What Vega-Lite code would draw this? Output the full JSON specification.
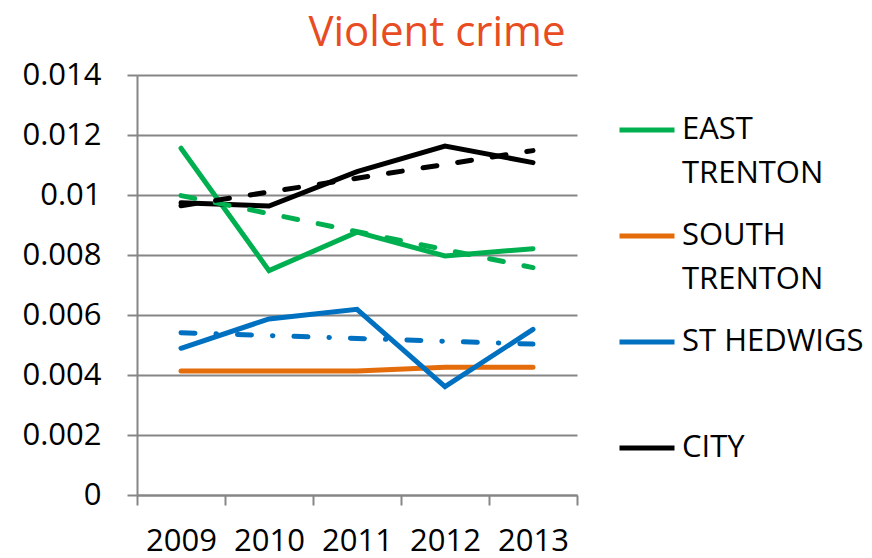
{
  "$schema": "https://vega.github.io/schema/vega-lite/v6.json",
  "autosize": "none",
  "width": 440,
  "height": 420,
  "padding": {"left": 137, "top": 75, "right": 295, "bottom": 63},
  "background": "white",
  "config": {
    "font": "Open Sans",
    "view": {"stroke": null}
  },
  "title": {
    "text": "Violent crime",
    "anchor": "middle",
    "dx": 80,
    "offset": 4,
    "fontSize": 42,
    "fontWeight": "normal",
    "color": "#E84C22",
    "font": "Open Sans"
  },
  "datasets": {
    "main": [
      {"series": "EAST TRENTON", "year": "2009", "value": 0.01156},
      {"series": "EAST TRENTON", "year": "2010", "value": 0.00748},
      {"series": "EAST TRENTON", "year": "2011", "value": 0.00876},
      {"series": "EAST TRENTON", "year": "2012", "value": 0.00797},
      {"series": "EAST TRENTON", "year": "2013", "value": 0.00821},
      {"series": "SOUTH TRENTON", "year": "2009", "value": 0.00413},
      {"series": "SOUTH TRENTON", "year": "2010", "value": 0.00413},
      {"series": "SOUTH TRENTON", "year": "2011", "value": 0.00413},
      {"series": "SOUTH TRENTON", "year": "2012", "value": 0.00426},
      {"series": "SOUTH TRENTON", "year": "2013", "value": 0.00426},
      {"series": "ST HEDWIGS", "year": "2009", "value": 0.00489},
      {"series": "ST HEDWIGS", "year": "2010", "value": 0.00587},
      {"series": "ST HEDWIGS", "year": "2011", "value": 0.00619},
      {"series": "ST HEDWIGS", "year": "2012", "value": 0.00361},
      {"series": "ST HEDWIGS", "year": "2013", "value": 0.00552},
      {"series": "CITY", "year": "2009", "value": 0.00974},
      {"series": "CITY", "year": "2010", "value": 0.00963},
      {"series": "CITY", "year": "2011", "value": 0.01078},
      {"series": "CITY", "year": "2012", "value": 0.01163},
      {"series": "CITY", "year": "2013", "value": 0.01108}
    ],
    "trend": [
      {"series": "EAST TRENTON", "year": "2009", "value": 0.00998},
      {"series": "EAST TRENTON", "year": "2013", "value": 0.00758},
      {"series": "CITY", "year": "2009", "value": 0.00964},
      {"series": "CITY", "year": "2013", "value": 0.01148},
      {"series": "ST HEDWIGS", "year": "2009", "value": 0.00541},
      {"series": "ST HEDWIGS", "year": "2013", "value": 0.00503}
    ]
  },
  "encoding": {
    "x": {
      "field": "year",
      "type": "ordinal",
      "bandPosition": 0.5,
      "scale": {"type": "band", "domain": ["2009", "2010", "2011", "2012", "2013"], "paddingInner": 0, "paddingOuter": 0},
      "axis": {
        "title": null,
        "labelAngle": 0,
        "tickBand": "extent",
        "grid": false,
        "domainColor": "#868686",
        "domainWidth": 2,
        "tickColor": "#868686",
        "tickWidth": 2,
        "tickSize": 10,
        "labelFontSize": 31,
        "labelColor": "#000000",
        "labelPadding": 21,
        "labelFont": "Open Sans"
      }
    },
    "y": {
      "field": "value",
      "type": "quantitative",
      "scale": {"domain": [0, 0.014], "nice": false, "zero": true},
      "axis": {
        "title": null,
        "values": [0, 0.002, 0.004, 0.006, 0.008, 0.01, 0.012, 0.014],
        "format": "~g",
        "grid": true,
        "gridColor": "#868686",
        "gridWidth": 2,
        "domainColor": "#868686",
        "domainWidth": 2,
        "tickColor": "#868686",
        "tickWidth": 2,
        "tickSize": 10,
        "labelFontSize": 31,
        "labelColor": "#000000",
        "labelPadding": 26,
        "labelFont": "Open Sans"
      }
    }
  },
  "layer": [
    {
      "data": {"name": "main"},
      "mark": {"type": "line", "strokeWidth": 5, "strokeCap": "round", "strokeJoin": "miter"},
      "encoding": {
        "color": {
          "field": "series",
          "type": "nominal",
          "scale": {
            "domain": ["EAST TRENTON", "SOUTH TRENTON", "ST HEDWIGS", "CITY"],
            "range": ["#00B050", "#E46C0A", "#0070C0", "#000000"]
          },
          "legend": {
            "title": null,
            "orient": "none",
            "legendX": 480,
            "legendY": 25,
            "symbolType": "stroke",
            "symbolSize": 3025,
            "symbolStrokeWidth": 5,
            "labelFontSize": 31,
            "labelFont": "Open Sans",
            "labelColor": "#000000",
            "labelOffset": 5,
            "labelLimit": 300,
            "gridAlign": "all",
            "rowPadding": 17,
            "labelExpr": "datum.label == 'EAST TRENTON' ? ['EAST', 'TRENTON'] : datum.label == 'SOUTH TRENTON' ? ['SOUTH', 'TRENTON'] : datum.label",
            "encoding": {
              "labels": {"lineHeight": {"value": 44}}
            }
          }
        }
      }
    },
    {
      "data": {"name": "trend"},
      "transform": [{"filter": "datum.series != 'ST HEDWIGS'"}],
      "mark": {"type": "line", "strokeWidth": 5, "strokeCap": "round", "strokeDash": [14, 21]},
      "encoding": {
        "color": {"field": "series", "type": "nominal", "legend": null}
      }
    },
    {
      "data": {"name": "trend"},
      "transform": [{"filter": "datum.series == 'ST HEDWIGS'"}],
      "mark": {"type": "line", "strokeWidth": 5, "strokeCap": "round", "strokeDash": [14, 21, 0.5, 21]},
      "encoding": {
        "color": {"field": "series", "type": "nominal", "legend": null}
      }
    }
  ]
}
